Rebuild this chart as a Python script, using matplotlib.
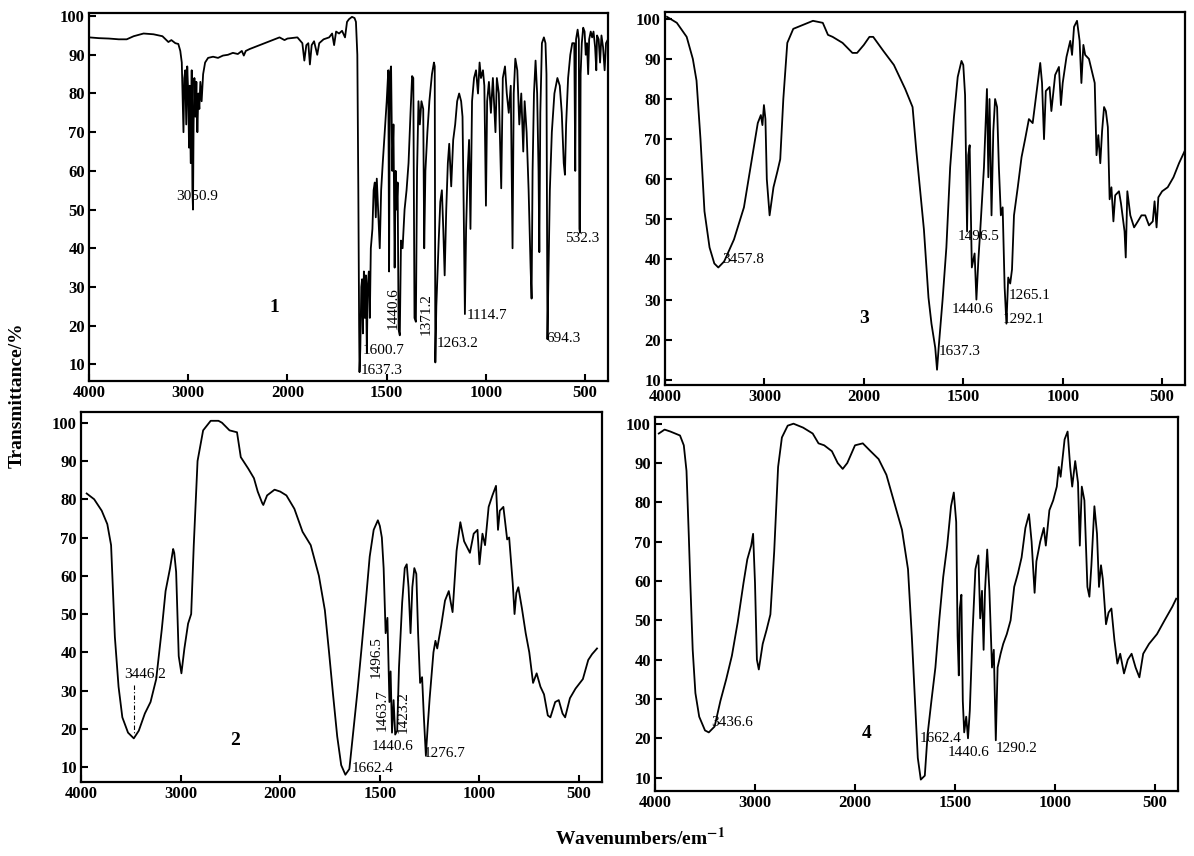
import numpy as np
import matplotlib
matplotlib.use('Agg')
import matplotlib.pyplot as plt
from matplotlib.ticker import FixedLocator

plt.rcParams['font.family'] = ['Liberation Serif', 'DejaVu Serif']
plt.rcParams['mathtext.fontset'] = 'stix'

# spectrum 1 (wavenumber cm-1, transmittance %)
s1_wn = [4000, 3900, 3800, 3700, 3620, 3550, 3450, 3350, 3260, 3200, 3170, 3130, 3100, 3080,
         3065, 3055, 3048, 3040, 3030, 3020, 3010, 3000, 2992, 2985, 2975, 2965, 2958, 2952,
         2946, 2938, 2928, 2918, 2908, 2898, 2888, 2878, 2865, 2850, 2830, 2800, 2750, 2700,
         2650, 2600, 2550, 2500, 2460, 2440, 2420, 2380, 2330, 2280, 2230, 2180, 2130, 2080,
         2030, 2000, 1950, 1925, 1915, 1905, 1895, 1887, 1878, 1866, 1850, 1840, 1818, 1790,
         1775, 1765, 1755, 1740, 1725, 1710, 1700, 1690, 1675, 1662, 1655, 1648, 1643, 1639,
         1637, 1633, 1628, 1624, 1620, 1615, 1610, 1605, 1600, 1596, 1590, 1585, 1580, 1572,
         1566, 1560, 1555, 1550, 1545, 1535, 1528, 1520, 1510, 1500, 1492, 1488, 1484, 1478,
         1472, 1466, 1460, 1455, 1450, 1445, 1440, 1434, 1428, 1420, 1410, 1400, 1390, 1380,
         1372, 1366, 1360, 1353, 1347, 1340, 1333, 1325, 1316, 1311, 1305, 1295, 1285, 1272,
         1262, 1258, 1255, 1250, 1245, 1238, 1230, 1222, 1215, 1208, 1200, 1192, 1185, 1175,
         1165, 1155, 1145, 1135, 1125, 1118, 1112, 1106, 1100, 1092, 1085, 1078, 1070, 1060,
         1050, 1040, 1032, 1025, 1015, 1008, 1000, 994, 985, 975, 965, 952, 945, 935, 923,
         915, 904, 895, 885, 875, 866, 860, 852, 842, 832, 822, 812, 805, 795, 785, 775, 770,
         765, 758, 750, 742, 735, 731, 726, 718, 708, 700, 695, 690, 686, 678, 668, 655, 640,
         628, 618, 608, 602, 596, 586, 575, 565, 555, 550, 546, 538, 532, 529, 526, 523, 517,
         510, 503, 497, 491, 485, 480, 472, 465, 458, 450, 444, 440, 432, 425, 418, 410, 402,
         395, 385]
s1_t = [94.5, 94.3, 94.2, 94.0, 94.0, 94.8, 95.5, 95.3, 94.8, 93.3, 93.8, 93.0, 92.8, 91,
        88, 78, 70, 84, 86, 72, 87, 80, 66, 82, 62, 86, 55, 50,
        72, 84, 74, 83, 70, 80, 76, 83, 78, 85, 88, 89.2, 89.5, 89.2,
        89.8, 90.0, 90.5, 90.2, 91, 89.8, 91, 91.5, 92, 92.5, 93, 93.5, 94, 94.5,
        93.8, 94.2, 94.5, 93, 88.5, 92.5, 93, 87.5, 92.5, 93.5, 90, 93, 94, 94.5,
        95.5, 92.5, 96, 95.5, 96.2, 94.5, 98.5, 99.2, 99.8, 99.5, 98.5, 90, 55, 20,
        8, 14, 30, 32, 18, 34, 22, 33, 13, 30, 34, 22, 40, 45,
        55, 57, 48, 58, 52, 40, 55, 62, 70, 78, 86, 34, 85, 87,
        60, 72, 35, 60, 50, 57, 19, 17.5, 42, 40, 50, 55, 62, 75,
        84.5, 84, 22, 21, 60, 78, 72, 78, 76, 40, 60, 70, 78, 85,
        88, 87, 10.5, 25, 32, 42, 52, 55, 45, 33, 50, 62, 67, 56,
        68, 72, 78, 80, 78, 74, 50, 23, 45, 60, 68, 45, 78, 84,
        86, 80, 88, 84, 86, 82, 51, 78, 83, 75, 84, 70, 84, 80, 55.5,
        84, 87, 80, 75, 82, 40, 80, 89, 86, 72, 80, 65, 78, 70, 55, 35, 27,
        60, 80, 88.5, 80, 60, 39, 75, 93, 94.5, 93, 85, 16.5, 30, 55, 70, 80, 84,
        82, 75, 62, 59, 72, 84, 90, 93, 93, 60, 94, 96.5, 94, 45, 44, 85, 93,
        97, 96, 90, 93, 85, 94, 96, 94.5, 96, 92, 86, 95, 94, 88, 95, 92, 86,
        93, 94]

# spectrum 2
s2_wn = [3943, 3868, 3792, 3736, 3698, 3679, 3660, 3623, 3585, 3528, 3470, 3420, 3359, 3302,
         3245, 3189, 3151, 3106, 3075, 3064, 3045, 3019, 2992, 2962, 2925, 2894, 2868, 2830,
         2774, 2698, 2620, 2585, 2509, 2434, 2396, 2321, 2264, 2226, 2181, 2170, 2132, 2057,
         2000, 1969, 1929, 1888, 1847, 1806, 1776, 1755, 1735, 1714, 1694, 1673, 1653, 1633,
         1612, 1592, 1571, 1551, 1531, 1510, 1500, 1490, 1481, 1471, 1462, 1452, 1446, 1439,
         1431, 1423, 1413, 1404, 1388, 1375, 1365, 1356, 1346, 1337, 1327, 1317, 1308, 1298,
         1288, 1279, 1269, 1260, 1250, 1231, 1221, 1212, 1192, 1173, 1154, 1144, 1135, 1115,
         1096, 1077, 1048, 1029, 1010, 1000, 985, 972, 954, 935, 917, 907, 898, 880, 861, 851,
         833, 824, 815, 805, 787, 768, 750, 731, 713, 694, 676, 657, 644, 620, 602, 583, 570,
         546, 518, 481, 454, 435, 410]
s2_t = [81.5, 80, 77, 73.5, 68, 56, 44, 31, 23, 19, 17.5, 19.5, 24, 27,
        33, 46, 56, 62, 67, 66, 61, 39, 34.5, 41, 47.5, 50, 68, 90,
        98, 100.5, 100.5, 100, 98, 97.5, 91, 88, 85.5, 82, 79, 78.5, 81, 82.5,
        82, 81, 77.5, 71.5, 68, 60, 51, 40, 29, 18, 10.5, 8, 9.5, 19.5,
        30, 41, 53, 65, 72, 74.5, 73, 70, 62, 45, 49, 27, 35, 19,
        27.5, 18.5, 19.5, 36, 53, 62, 63, 57, 45, 57, 62, 60.5, 45, 32,
        33.5, 23, 13, 20.5, 28, 40, 43, 41, 47, 53.5, 56, 53, 50.5, 66.5,
        74, 69, 66, 71, 72, 63, 71, 68, 78, 81, 83.5, 72, 77, 78, 69.5, 70,
        58, 50, 55.5, 57, 51.5, 45, 40, 32, 34.5, 31, 29, 23.5, 23, 27, 27.5, 24, 23,
        28, 30.5, 33, 38, 39.5, 41]

# spectrum 3
s3_wn = [3980, 3881, 3782, 3720, 3683, 3643, 3603, 3552, 3504, 3464, 3405, 3306, 3206, 3107,
         3067, 3036, 3020, 3005, 2990, 2976, 2948, 2909, 2869, 2841, 2810, 2770, 2710, 2611,
         2512, 2413, 2361, 2314, 2214, 2115, 2068, 2000, 1972, 1953, 1902, 1849, 1792, 1755,
         1736, 1698, 1675, 1660, 1641, 1632, 1623, 1604, 1585, 1566, 1547, 1528, 1509, 1500,
         1491, 1481, 1475, 1468, 1457, 1443, 1434, 1424, 1415, 1396, 1381, 1374, 1368, 1358,
         1349, 1340, 1330, 1321, 1311, 1302, 1292, 1283, 1274, 1264, 1255, 1245, 1226, 1207,
         1189, 1170, 1151, 1132, 1113, 1104, 1094, 1085, 1066, 1057, 1038, 1019, 1009, 1000,
         981, 962, 953, 943, 928, 915, 906, 896, 887, 868, 849, 839, 830, 821, 811, 802, 792,
         783, 773, 764, 755, 745, 736, 717, 707, 689, 683, 675, 660, 641, 622, 604, 585, 566,
         547, 538, 528, 519, 500, 472, 443, 415, 387]
s3_t = [100.5, 99, 95.5, 90, 84.6, 70, 52, 43, 39, 38, 39.5, 45, 53, 68,
        74, 76, 73.5, 78.5, 75, 60, 51, 58, 62, 65, 80, 94, 97.5, 98.5,
        99.5, 99, 96, 95.5, 94, 91.5, 91.5, 93.5, 95.5, 95.5, 92, 88.5, 82.5, 78,
        67, 47.5, 30.5, 24, 18, 12.5, 18.5, 30, 43, 63, 75.5, 85.5, 89.5, 88.5,
        81, 47, 66, 68.5, 38, 41.5, 30, 40, 47, 63, 82.5, 60.5, 80, 51,
        72, 80, 78, 63, 51, 53, 33, 24, 35.5, 34, 37.5, 51, 58, 65.5,
        70, 75, 74, 81.5, 89, 84, 70, 82, 83, 77, 86, 88, 78.5, 84,
        90.5, 94.5, 91, 98, 99.5, 94.5, 84, 93.5, 91, 90, 86, 84, 66, 71, 64, 72, 78,
        77, 73, 55, 58, 49.5, 56, 57, 54, 47, 40.5, 57, 51, 48, 49.5, 51, 51, 48.5,
        49.5, 54.5, 48, 55.5, 57, 58, 60.5, 64, 67]

# spectrum 4
s4_wn = [3962, 3904, 3846, 3750, 3712, 3685, 3662, 3646, 3623, 3596, 3558, 3500, 3462, 3404,
         3346, 3288, 3231, 3173, 3115, 3077, 3038, 3019, 3000, 2981, 2962, 2923, 2885, 2846,
         2808, 2769, 2731, 2673, 2615, 2519, 2423, 2365, 2308, 2231, 2173, 2123, 2077, 2000,
         1961, 1922, 1882, 1843, 1804, 1765, 1735, 1716, 1700, 1686, 1671, 1651, 1637, 1618,
         1598, 1578, 1559, 1539, 1520, 1506, 1494, 1487, 1481, 1476, 1468, 1461, 1454, 1444,
         1435, 1426, 1413, 1398, 1383, 1374, 1365, 1357, 1350, 1339, 1328, 1315, 1306, 1296,
         1287, 1272, 1259, 1241, 1222, 1204, 1185, 1167, 1148, 1130, 1117, 1102, 1093, 1074,
         1056, 1046, 1028, 1009, 991, 981, 972, 952, 937, 924, 914, 899, 885, 876, 866, 853,
         838, 828, 818, 803, 790, 780, 770, 761, 745, 732, 718, 703, 688, 674, 655, 636, 617,
         597, 578, 559, 530, 490, 452, 413, 394]
s4_t = [97.5, 98.5, 98, 97, 94.5, 88, 71.5, 59, 42.5, 31.5, 25.5, 22, 21.5, 23,
        29.5, 35, 41, 49.5, 59.5, 65.5, 69, 72, 59.5, 40, 37.5, 44, 47.5, 51.5,
        67.5, 89, 96.5, 99.5, 100, 99, 97.5, 95, 94.5, 93, 90, 88.5, 90, 94.5,
        95, 93, 91, 87, 80, 73, 63, 46, 29.5, 15, 9.5, 10.5, 21, 29.5,
        38, 50.5, 61, 69, 79, 82.5, 75, 46, 36, 53, 56.5, 29.5, 21.5, 25.5,
        20, 27, 46, 63, 66.5, 50.5, 57.5, 42.5, 57.5, 68, 57.5, 38, 42.5, 19.5,
        38, 41.5, 44, 46.5, 50, 58.5, 62, 66, 73.5, 77, 70, 57, 65, 70,
        73.5, 69, 78, 80.5, 84, 89, 86.5, 96, 98, 89, 84, 90.5, 85, 69, 84, 80.5,
        58.5, 56, 64, 79, 72, 58.5, 64, 60.5, 49, 52, 53, 45, 39, 41.5, 36.5, 40, 41.5,
        38, 35.5, 41.5, 44, 46.5, 50, 53.5, 55.5]

xticks = [4000, 3000, 2000, 1500, 1000, 500]
yticks = [10, 20, 30, 40, 50, 60, 70, 80, 90, 100]


# the instrument doubles the wavenumber scale below 2000 cm-1
# (increasing in w, the axis is then inverted with set_xlim)
def wn_fwd(w):
    w = np.asarray(w, dtype=float)
    return np.where(w >= 2000, (w - 4000) / 1000, -2 - (2000 - w) / 500)


def wn_inv(u):
    u = np.asarray(u, dtype=float)
    return np.where(u >= -2, 4000 + 1000 * u, 2000 + 500 * (u + 2))


fig = plt.figure(figsize=(11.94, 8.56), dpi=100)

W, H = 1194, 856
boxes = {1: (89, 608, 13, 381), 3: (665, 1185, 12, 385),
         2: (81, 602, 412, 782), 4: (655, 1178, 417, 791)}
ylims = {1: (5.7, 100.8), 3: (8.7, 101.7), 2: (6.1, 102.8), 4: (6.6, 101.7)}
data = {1: (s1_wn, s1_t), 2: (s2_wn, s2_t), 3: (s3_wn, s3_t), 4: (s4_wn, s4_t)}

axes = {}
for k, (l, r, t, b) in boxes.items():
    ax = fig.add_axes([l / W, 1 - b / H, (r - l) / W, (b - t) / H])
    ax.set_xscale('function', functions=(wn_fwd, wn_inv))
    wn, tr = data[k]
    ax.plot(wn, tr, color='black', lw=1.3)
    ax.set_xlim(4000, 385)
    ax.set_ylim(*ylims[k])
    ax.xaxis.set_major_locator(FixedLocator(xticks))
    ax.yaxis.set_major_locator(FixedLocator(yticks))
    ax.minorticks_off()
    ax.set_xticklabels([str(v) for v in xticks])
    ax.set_yticklabels([str(v) for v in yticks])
    ax.tick_params(direction='in', length=5, width=1.5, labelsize=12, pad=3)
    for lab in ax.get_xticklabels() + ax.get_yticklabels():
        lab.set_fontweight('bold')
    for sp in ax.spines.values():
        sp.set_linewidth(1.6)
    axes[k] = ax

fs = 11
# panel 1 labels
a = axes[1]
a.text(3119, 53.3, '3050.9', fontsize=fs, va='center')
a.text(1620, 13.7, '1600.7', fontsize=fs, va='center')
a.text(1630, 8.5, '1637.3', fontsize=fs, va='center')
a.text(1468, 24.6, '1440.6', fontsize=fs, va='center', ha='center', rotation=90)
a.text(1301, 22.9, '1371.2', fontsize=fs, va='center', ha='center', rotation=90)
a.text(1248, 15.5, '1263.2', fontsize=fs, va='center')
a.text(1096, 22.5, '1114.7', fontsize=fs, va='center')
a.text(693, 16.7, '694.3', fontsize=fs, va='center')
a.text(600, 42.5, '532.3', fontsize=fs, va='center')
a.text(2128, 24.8, '1', fontsize=14, fontweight='bold', va='center', ha='center')

# panel 2 labels
a = axes[2]
a.text(3566, 34.2, '3446.2', fontsize=fs, va='center')
a.plot([3470, 3470], [31.5, 18.5], color='black', lw=0.8, ls=(0, (4, 2, 1, 2)))
a.text(1516, 38.7, '1496.5', fontsize=fs, va='center', ha='center', rotation=90)
a.text(1490, 25, '1463.7', fontsize=fs, va='center', ha='center', rotation=90)
a.text(1381, 24.5, '1423.2', fontsize=fs, va='center', ha='center', rotation=90)
a.text(1541, 15.5, '1440.6', fontsize=fs, va='center')
a.text(1279, 13.6, '1276.7', fontsize=fs, va='center')
a.text(1643, 9.5, '1662.4', fontsize=fs, va='center')
a.text(2454, 17, '2', fontsize=14, fontweight='bold', va='center', ha='center')

# panel 3 labels
a = axes[3]
a.text(3425, 40, '3457.8', fontsize=fs, va='center')
a.text(1528, 45.8, '1496.5', fontsize=fs, va='center')
a.text(1557, 27.4, '1440.6', fontsize=fs, va='center')
a.text(1274, 31, '1265.1', fontsize=fs, va='center')
a.text(1302, 25, '1292.1', fontsize=fs, va='center')
a.text(1624, 17, '1637.3', fontsize=fs, va='center')
a.text(2000, 25.3, '3', fontsize=14, fontweight='bold', va='center', ha='center')

# panel 4 labels
a = axes[4]
a.text(3442, 23.9, '3436.6', fontsize=fs, va='center')
a.text(1677, 20, '1662.4', fontsize=fs, va='center')
a.text(1539, 16.5, '1440.6', fontsize=fs, va='center')
a.text(1296, 17.4, '1290.2', fontsize=fs, va='center')
a.text(1941, 21.3, '4', fontsize=14, fontweight='bold', va='center', ha='center')

fig.text(17 / W, 1 - 395 / H, 'Transmittance/%', rotation=90, fontsize=14,
         fontweight='bold', ha='center', va='center')
fig.text(640 / W, 1 - 838 / H, r'Wavenumbers/em$^{\mathbf{-1}}$', fontsize=14,
         fontweight='bold', ha='center', va='center')

fig.savefig('out.png', dpi=100)
